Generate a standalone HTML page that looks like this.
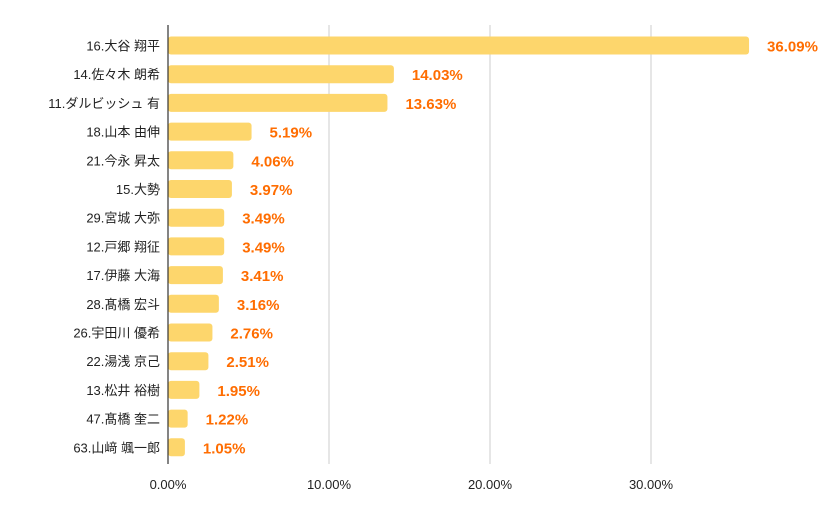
<!DOCTYPE html>
<html><head><meta charset="utf-8"><style>
body{margin:0;background:#fff;width:840px;height:519px;overflow:hidden}
text{font-family:"Liberation Sans","Noto Sans CJK JP",sans-serif}
</style></head><body>
<svg id="chart" width="840" height="519" xmlns="http://www.w3.org/2000/svg"></svg>
<script>
const categories=["16.大谷 翔平","14.佐々木 朗希","11.ダルビッシュ 有","18.山本 由伸","21.今永 昇太","15.大勢","29.宮城 大弥","12.戸郷 翔征","17.伊藤 大海","28.髙橋 宏斗","26.宇田川 優希","22.湯浅 京己","13.松井 裕樹","47.髙橋 奎二","63.山﨑 颯一郎"];
const values=[36.09,14.03,13.63,5.19,4.06,3.97,3.49,3.49,3.41,3.16,2.76,2.51,1.95,1.22,1.05];
const ticks=[0,10,20,30];
const tickLabels=["0.00%","10.00%","20.00%","30.00%"];
const svgEl=document.getElementById('chart');
const NS='http://www.w3.org/2000/svg';
const x0=168,pxPer=16.1,plotTop=25,plotBottom=464,rowH=28.7,firstC=45.5,barH=18;
const xs=v=>x0+v*pxPer;
const yc=i=>firstC+i*rowH;
function mk(t,a,txt){const e=document.createElementNS(NS,t);for(const k in a)e.setAttribute(k,a[k]);if(txt!==undefined)e.textContent=txt;svgEl.appendChild(e);return e;}
ticks.forEach((t,i)=>{
  if(t>0){const g=mk('line',{x1:xs(t),x2:xs(t),y1:plotTop,y2:plotBottom,stroke:'#cccccc','stroke-width':1});
  
  }
  const l=mk('text',{x:xs(t),y:489,'text-anchor':'middle','font-size':13,fill:'#222'},tickLabels[i]);
  
  
});
categories.forEach((c,i)=>{
  const b=mk('rect',{x:x0,y:yc(i)-barH/2,width:Math.max(0,xs(values[i])-x0),height:barH,rx:3,fill:'#fdd66c'});
  
  
  const l=mk('text',{x:160,y:yc(i)+5,'text-anchor':'end','font-size':13,fill:'#222'},c);
  
  
  const v=mk('text',{x:xs(values[i])+18,y:yc(i)+6,'font-size':15,'font-weight':'bold',fill:'#ff6d01'},values[i].toFixed(2)+'%');
  
  
});
const ax=mk('line',{x1:x0,x2:x0,y1:plotTop,y2:plotBottom,stroke:'#333','stroke-width':1.2});


</script>
</body></html>
